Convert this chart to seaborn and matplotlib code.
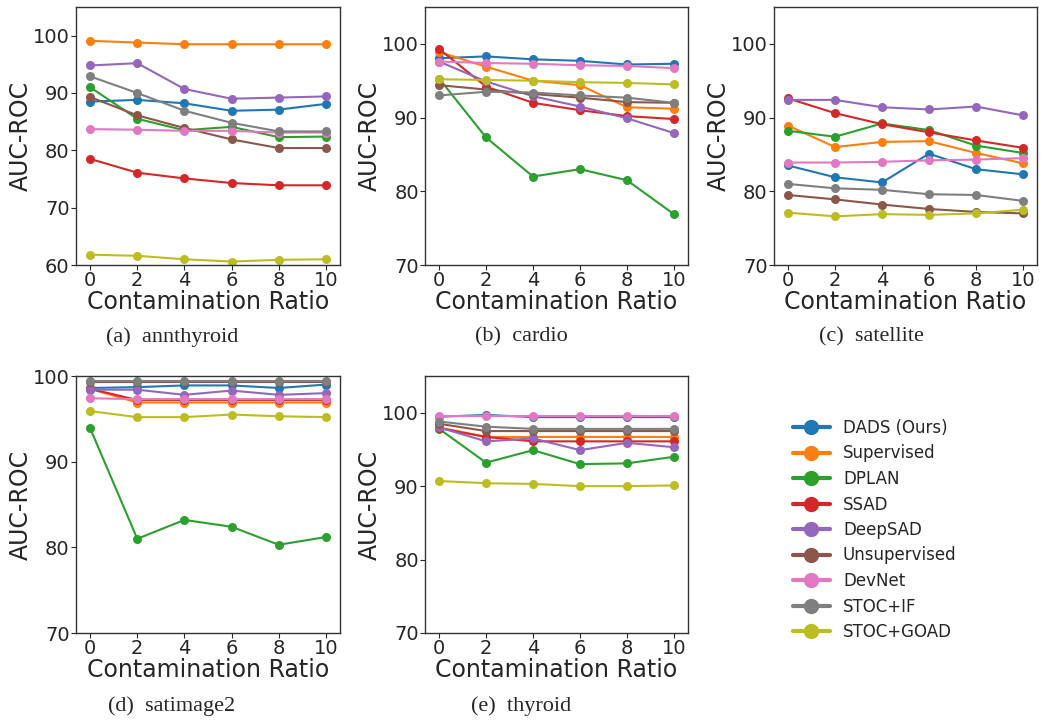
import numpy as np
import pandas as pd
import matplotlib
matplotlib.use("Agg")
import matplotlib.pyplot as plt
from matplotlib.lines import Line2D
import seaborn as sns

ratios = [0, 2, 4, 6, 8, 10]
methods = ["DADS (Ours)", "Supervised", "DPLAN", "SSAD", "DeepSAD",
           "Unsupervised", "DevNet", "STOC+IF", "STOC+GOAD"]

annthyroid = {
    "DADS (Ours)": [88.5, 88.8, 88.2, 86.9, 87.1, 88.1],
    "Supervised": [99.1, 98.8, 98.5, 98.5, 98.5, 98.5],
    "DPLAN": [91.0, 85.5, 83.5, 84.1, 82.3, 82.4],
    "SSAD": [78.5, 76.1, 75.1, 74.3, 73.9, 73.9],
    "DeepSAD": [94.8, 95.2, 90.7, 89.0, 89.2, 89.4],
    "Unsupervised": [89.3, 86.1, 83.9, 81.9, 80.4, 80.4],
    "DevNet": [83.7, 83.6, 83.4, 83.4, 83.1, 83.1],
    "STOC+IF": [92.9, 90.0, 86.9, 84.8, 83.3, 83.3],
    "STOC+GOAD": [61.8, 61.6, 61.0, 60.6, 60.9, 61.0],
}
cardio = {
    "DADS (Ours)": [98.05, 98.3, 97.9, 97.7, 97.2, 97.3],
    "Supervised": [98.9, 96.9, 95.0, 94.4, 91.4, 91.2],
    "DPLAN": [95.3, 87.3, 82.0, 83.0, 81.5, 76.9],
    "SSAD": [99.3, 94.2, 92.0, 91.0, 90.2, 89.8],
    "DeepSAD": [97.6, 94.9, 92.9, 91.5, 89.9, 87.9],
    "Unsupervised": [94.4, 93.8, 93.2, 92.7, 92.1, 92.0],
    "DevNet": [97.6, 97.4, 97.3, 97.1, 97.0, 96.7],
    "STOC+IF": [93.0, 93.5, 93.4, 93.0, 92.7, 92.0],
    "STOC+GOAD": [95.2, 95.1, 95.0, 94.8, 94.7, 94.5],
}
satellite = {
    "DADS (Ours)": [83.5, 81.9, 81.2, 85.1, 83.0, 82.3],
    "Supervised": [88.9, 86.0, 86.7, 86.8, 85.2, 83.8],
    "DPLAN": [88.2, 87.4, 89.2, 88.3, 86.2, 85.2],
    "SSAD": [92.6, 90.6, 89.1, 88.0, 86.9, 85.9],
    "DeepSAD": [92.4, 92.4, 91.4, 91.1, 91.5, 90.3],
    "Unsupervised": [79.5, 78.9, 78.2, 77.6, 77.2, 77.0],
    "DevNet": [83.9, 83.9, 84.0, 84.2, 84.3, 84.5],
    "STOC+IF": [81.0, 80.4, 80.2, 79.6, 79.5, 78.7],
    "STOC+GOAD": [77.1, 76.6, 76.9, 76.8, 77.0, 77.5],
}
satimage2 = {
    "DADS (Ours)": [98.6, 98.7, 98.9, 98.9, 98.6, 99.0],
    "Supervised": [98.5, 96.9, 96.9, 96.9, 96.9, 96.9],
    "DPLAN": [93.9, 81.0, 83.2, 82.4, 80.3, 81.2],
    "SSAD": [98.5, 97.2, 97.2, 97.2, 97.2, 97.2],
    "DeepSAD": [98.4, 98.4, 97.8, 98.3, 97.8, 98.0],
    "Unsupervised": [99.3, 99.3, 99.3, 99.3, 99.3, 99.3],
    "DevNet": [97.4, 97.3, 97.3, 97.3, 97.3, 97.3],
    "STOC+IF": [99.4, 99.4, 99.4, 99.4, 99.4, 99.4],
    "STOC+GOAD": [95.9, 95.2, 95.2, 95.5, 95.3, 95.2],
}
thyroid = {
    "DADS (Ours)": [99.45, 99.7, 99.4, 99.4, 99.4, 99.4],
    "Supervised": [98.0, 96.7, 96.7, 96.7, 96.7, 96.7],
    "DPLAN": [97.8, 93.2, 94.9, 93.0, 93.1, 94.0],
    "SSAD": [97.9, 96.7, 96.1, 96.1, 96.1, 96.1],
    "DeepSAD": [98.0, 96.1, 96.5, 94.9, 95.9, 95.3],
    "Unsupervised": [98.5, 97.5, 97.5, 97.5, 97.5, 97.5],
    "DevNet": [99.6, 99.6, 99.6, 99.6, 99.6, 99.6],
    "STOC+IF": [98.8, 98.1, 97.8, 97.8, 97.8, 97.8],
    "STOC+GOAD": [90.7, 90.4, 90.3, 90.0, 90.0, 90.1],
}

datasets = [annthyroid, cardio, satellite, satimage2, thyroid]
captions = ["(a)  annthyroid", "(b)  cardio", "(c)  satellite",
            "(d)  satimage2", "(e)  thyroid"]
ylims = [(60, 105), (70, 105), (70, 105), (70, 100), (70, 105)]
yticks = [[60, 70, 80, 90, 100], [70, 80, 90, 100], [70, 80, 90, 100],
          [70, 80, 90, 100], [70, 80, 90, 100]]

sns.set_style("ticks")
plt.rcParams['font.family'] = ['DejaVu Sans']

palette = dict(zip(methods, sns.color_palette("tab10", 9)))

W, H = 1041, 721
fig = plt.figure(figsize=(W / 100, H / 100), dpi=100)

# pixel boxes (left, top, right, bottom)
boxes = [(76, 7, 340, 265), (425, 7, 688, 265), (774, 7, 1037, 265),
         (76, 376, 340, 633), (425, 376, 688, 633)]
cap_pos = [(172, 337), (521, 337), (871, 337), (172, 706), (521, 706)]

for i, data in enumerate(datasets):
    l, t, r, b = boxes[i]
    ax = fig.add_axes([l / W, 1 - b / H, (r - l) / W, (b - t) / H])
    df = pd.DataFrame([
        {"ratio": x, "auc": v, "method": m}
        for m in methods for x, v in zip(ratios, data[m])
    ])
    sns.lineplot(data=df, x="ratio", y="auc", hue="method", hue_order=methods,
                 palette=palette, marker="o", markersize=6.5, markeredgewidth=0,
                 linewidth=1.5, legend=False, ax=ax)
    ax.set_ylim(*ylims[i])
    ax.set_yticks(yticks[i])
    ax.set_xticks(ratios)
    ax.set_xlim(-0.6, 10.6)
    ax.tick_params(labelsize=14, length=3.5, pad=1.0)
    ax.set_xlabel("Contamination Ratio", fontsize=17, labelpad=0)
    ax.set_ylabel("AUC-ROC", fontsize=17, labelpad=0)
    for s in ax.spines.values():
        s.set_linewidth(1.0)
        s.set_color("#333333")
    cx, cy = cap_pos[i]
    fig.text(cx / W, 1 - cy / H, captions[i], ha="center", va="center",
             fontsize=16, family=["Liberation Serif"])

handles = [Line2D([0], [0], color=palette[m], marker="o", lw=3, markersize=10)
           for m in methods]
fig.legend(handles, methods, loc="upper left", frameon=False, fontsize=12,
           bbox_to_anchor=(778 / W, 1 - 404 / H), handlelength=2.2,
           labelspacing=0.45, handletextpad=0.8)

fig.savefig("out.png", dpi=100)
